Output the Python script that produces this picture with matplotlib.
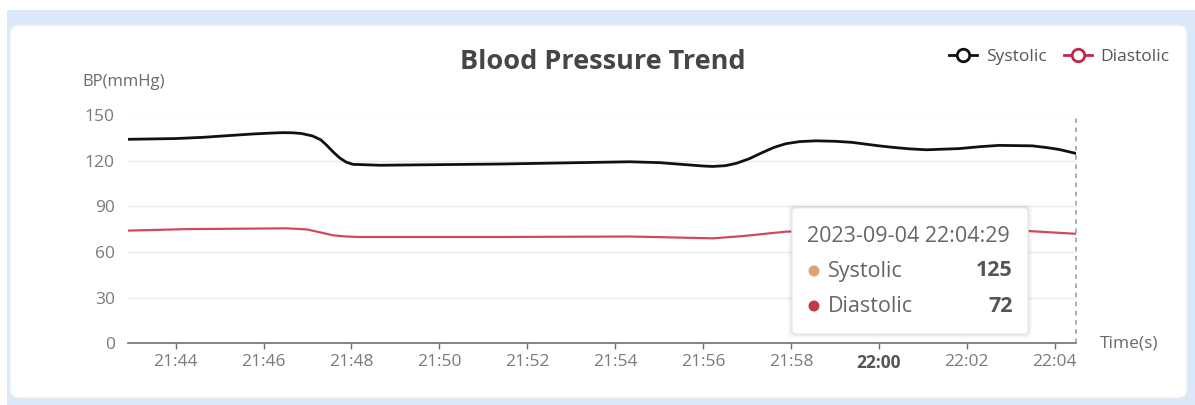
import matplotlib
matplotlib.use('Agg')
import matplotlib.pyplot as plt
from matplotlib.font_manager import FontProperties
from matplotlib.lines import Line2D
from matplotlib.patches import Circle, FancyBboxPatch, Rectangle
from matplotlib.transforms import IdentityTransform
import pandas as pd

DAY = '2023-09-04 '

# values (mmHg)
sys_times = ['21:42:55', '21:44:00', '21:44:37', '21:45:45', '21:46:10', '21:46:26',
             '21:46:40', '21:46:52', '21:47:07', '21:47:18', '21:47:26', '21:47:35',
             '21:47:44', '21:47:53', '21:48:02', '21:48:39', '21:51:22', '21:54:20',
             '21:55:01', '21:55:41', '21:56:00', '21:56:13', '21:56:30', '21:56:45',
             '21:57:03', '21:57:21', '21:57:37', '21:57:53', '21:58:12', '21:58:34',
             '21:59:00', '21:59:23', '22:00:00', '22:00:19', '22:00:42', '22:01:05',
             '22:01:50', '22:02:17', '22:02:44', '22:03:29', '22:03:50', '22:04:06',
             '22:04:29']
sys_values = [134.3, 134.8, 135.6, 137.8, 138.4, 138.7,
              138.6, 138.1, 136.5, 134.0, 130.5, 126.0,
              122.0, 119.2, 117.8, 117.2, 118.0, 119.5,
              118.9, 117.4, 116.7, 116.4, 116.9, 118.4,
              121.5, 125.6, 129.0, 131.4, 132.8, 133.3,
              133.0, 132.3, 130.0, 129.0, 128.0, 127.4,
              128.2, 129.4, 130.3, 130.0, 128.8, 127.6,
              125.0]

dia_times = ['21:42:55', '21:44:16', '21:46:32', '21:46:59', '21:47:17', '21:47:35',
             '21:47:53', '21:48:11', '21:51:22', '21:54:20', '21:55:01', '21:56:13',
             '21:56:54', '21:57:53', '22:00:00', '22:02:00', '22:03:25', '22:04:29']
dia_values = [74.1, 75.1, 75.6, 74.9, 73.0, 71.0,
              70.2, 69.9, 69.9, 70.2, 69.8, 69.0,
              70.5, 73.4, 75.0, 75.0, 73.8, 72.0]

tick_labels = ['21:44', '21:46', '21:48', '21:50', '21:52', '21:54',
               '21:56', '21:58', '22:00', '22:02', '22:04']
y_ticks = [0, 30, 60, 90, 120, 150]

tip_time = '2023-09-04 22:04:29'
tip_names = ['Systolic', 'Diastolic']
tip_values = [125, 72]

W, H = 1195, 405
FONT = ['Open Sans', 'DejaVu Sans']
GRAY = '#6e7079'


def to_dt(items):
    return list(pd.to_datetime([DAY + t for t in items]).to_pydatetime())


def fx(x):
    return x / W


def fy(y):
    return 1 - y / H


plt.rcParams['font.family'] = FONT

fig = plt.figure(figsize=(W / 100, H / 100), dpi=100)
fig.patch.set_facecolor('white')

# page background and card
fig.add_artist(Rectangle((7, 0), W - 7, H - 10, transform=IdentityTransform(),
                         facecolor='#dbe8f9', edgecolor='none', zorder=-10))
fig.add_artist(FancyBboxPatch((10, H - 398), 1177, 373, transform=IdentityTransform(),
                              boxstyle='round,pad=0,rounding_size=9',
                              facecolor='white', edgecolor='#e8eef6', lw=1, zorder=-9))

ax = fig.add_axes([fx(128), fy(343), fx(1076) - fx(128), fy(115.5) - fy(343)])
ax.set_facecolor('none')

st = to_dt(sys_times)
dt = to_dt(dia_times)

ax.plot(st, sys_values, color='#111111', lw=2.0, solid_joinstyle='round',
        solid_capstyle='round', zorder=3)
ax.plot(dt, dia_values, color='#d04a5e', lw=1.6, solid_joinstyle='round',
        solid_capstyle='round', zorder=3)

ax.set_xlim(st[0], st[-1])
ax.set_ylim(0, 150)
ax.set_yticks(y_ticks)
ax.set_yticklabels([str(v) for v in y_ticks])
ax.grid(axis='y', color='#e6eaf2', lw=1)
ax.set_axisbelow(True)

for side in ['left', 'top', 'right']:
    ax.spines[side].set_visible(False)
ax.spines['bottom'].set_color(GRAY)
ax.spines['bottom'].set_linewidth(1.2)
ax.tick_params(axis='y', length=0, pad=9.5, labelsize=12.5, labelcolor='#7a7a7a')
ax.tick_params(axis='x', length=4, width=1, color=GRAY, pad=4,
               labelsize=12.5, labelcolor='#7a7a7a')

tick_pos = to_dt([t + ':00' for t in tick_labels])
ax.set_xticks(tick_pos)
ax.set_xticklabels(tick_labels)
bold_fp = FontProperties(family=FONT, weight='bold', stretch='normal', size=12.5)
for lbl in ax.get_xticklabels():
    if lbl.get_text() == '22:00':
        lbl.set_fontproperties(bold_fp)
        lbl.set_color('#555555')

# axis pointer at the hovered point
ax.axvline(st[-1], color='#999999', lw=1.1, ls=(0, (3, 3)), zorder=2, clip_on=False)

# texts
fig.text(fx(603), fy(62), 'Blood Pressure Trend', ha='center', va='center',
         fontsize=19.5, fontweight='bold', fontstretch='normal', color='#464646')
fig.text(fx(82), fy(82), 'BP(mmHg)', ha='left', va='center', fontsize=12, color='#6a6a6a')
fig.text(fx(1100), fy(343), 'Time(s)', ha='left', va='center', fontsize=12.5, color='#6a6a6a')

# legend
handles = [Line2D([], [], color='#111111', lw=2, marker='o', ms=9, mfc='white', mew=2),
           Line2D([], [], color='#c0284a', lw=2, marker='o', ms=9, mfc='white', mew=2)]
fig.legend(handles, ['Systolic', 'Diastolic'], loc='upper right',
           bbox_to_anchor=(fx(1178), fy(40)), ncol=2, frameon=False,
           fontsize=12.5, handlelength=1.6, handletextpad=0.5, columnspacing=1.0,
           labelcolor='#555555', borderpad=0)

# tooltip
tx0, ty0, tw, th = 792, 208, 236, 126
for grow, alpha in [(4, 0.03), (2, 0.05), (1, 0.07)]:
    fig.add_artist(FancyBboxPatch((tx0 - grow, H - ty0 - th - grow), tw + 2 * grow, th + 2 * grow,
                                  transform=IdentityTransform(),
                                  boxstyle='round,pad=0,rounding_size=6',
                                  facecolor='black', edgecolor='none', alpha=alpha, zorder=10))
fig.add_artist(FancyBboxPatch((tx0, H - ty0 - th), tw, th, transform=IdentityTransform(),
                              boxstyle='round,pad=0,rounding_size=5',
                              facecolor='white', edgecolor='#eeeeee', lw=1, zorder=11))
fig.text(fx(807), fy(237), tip_time, ha='left', va='center', fontsize=15.5,
         color='#666666', zorder=12)
dot_colors = ['#dea273', '#c23a45']
for i, (name, val) in enumerate(zip(tip_names, tip_values)):
    yy = 271 + 35 * i
    fig.add_artist(Circle((814, H - yy), 5.5, transform=IdentityTransform(),
                          facecolor=dot_colors[i], edgecolor='none', zorder=12))
    fig.text(fx(828), fy(yy), name, ha='left', va='center', fontsize=15.5,
             color='#666666', zorder=12)
    fig.text(fx(1013), fy(yy), str(val), ha='right', va='center', fontsize=15.5,
             fontweight='bold', fontstretch='normal', color='#555555', zorder=12)

fig.savefig('out.png', dpi=100)
